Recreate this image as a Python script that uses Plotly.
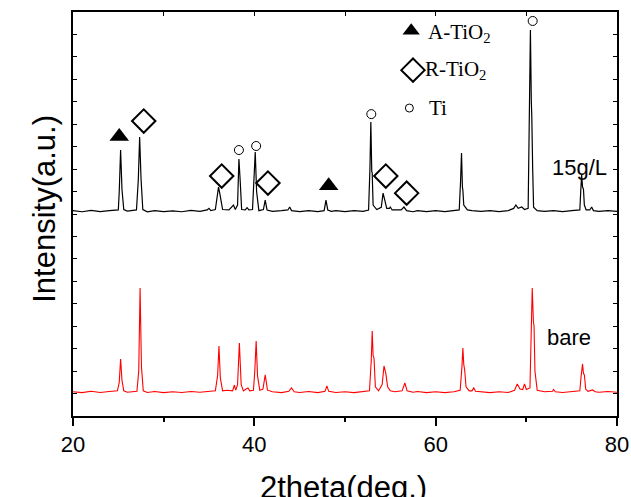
import plotly.graph_objects as go

# ---- data ----
bare_x = [20.0, 21.0, 22.0, 23.0, 24.0, 24.9, 25.1, 25.25, 25.4, 25.6, 26.0, 27.05, 27.25, 27.4, 27.55, 27.75,
          28.2, 29.0, 30.0, 31.0, 32.0, 33.0, 34.0, 35.0, 35.7, 35.95, 36.1, 36.25, 36.5, 37.0, 37.6, 37.8,
          37.95, 38.15, 38.35, 38.55, 38.8, 39.1, 39.3, 39.5, 39.9, 40.05, 40.2, 40.35, 40.6, 40.95, 41.2,
          41.45, 42.0, 43.0, 43.8, 44.1, 44.4, 45.0, 46.0, 47.0, 47.8, 48.0, 48.2, 49.0, 50.0, 51.0, 52.0,
          52.7, 52.9, 53.0, 53.1, 53.2, 53.35, 53.7, 54.1, 54.3, 54.5, 54.7, 55.0, 55.5, 56.3, 56.6, 56.85,
          57.5, 58.0, 59.0, 60.0, 61.0, 62.0, 62.7, 62.9, 63.0, 63.1, 63.2, 63.35, 63.7, 64.0, 64.2, 64.4,
          65.0, 66.0, 67.0, 68.0, 68.7, 69.0, 69.3, 69.6, 69.8, 70.0, 70.4, 70.55, 70.65, 70.78, 70.85,
          70.95, 71.2, 72.0, 72.9, 73.0, 73.2, 74.0, 75.0, 75.9, 76.05, 76.2, 76.3, 76.4, 76.55, 76.8,
          77.3, 77.6, 78.0, 79.0, 80.0]
bare_y = [108, 104, 110, 105, 109, 112, 150, 254, 160, 112, 106, 110, 200, 570, 220, 112,
          105, 109, 104, 108, 105, 109, 106, 110, 112, 180, 312, 170, 112, 115, 112, 138,
          115, 140, 325, 140, 112, 120, 125, 112, 115, 200, 334, 180, 115, 120, 183,
          115, 108, 104, 110, 125, 108, 105, 109, 104, 110, 134, 110, 105, 108, 104, 109,
          112, 250, 379, 270, 258, 130, 112, 140, 223, 190, 130, 112, 108, 112, 147, 112,
          106, 109, 104, 108, 104, 108, 115, 220, 303, 230, 205, 130, 112, 112, 125, 110,
          108, 104, 108, 105, 115, 143, 120, 118, 143, 118, 125, 400, 570, 420, 401,
          200, 115, 108, 110, 118, 108, 105, 108, 112, 180, 232, 190, 183, 120, 110,
          116, 108, 106, 109, 106]

coat_x = [20.0, 21.0, 22.0, 23.0, 24.0, 25.0, 25.1, 25.25, 25.4, 25.6, 26.0, 27.0, 27.2, 27.35, 27.5, 27.7,
          28.2, 29.0, 30.0, 31.0, 32.0, 33.0, 34.0, 34.8, 35.0, 35.2, 35.7, 35.9, 36.05, 36.2, 36.5, 37.2,
          37.5, 37.7, 37.9, 38.15, 38.3, 38.38, 38.45, 38.6, 39.0, 39.2, 39.4, 39.8, 39.95, 40.1, 40.25,
          40.5, 41.0, 41.2, 41.4, 42.0, 43.0, 43.7, 43.9, 44.1, 45.0, 46.0, 47.0, 47.7, 47.9, 48.1, 48.5,
          49.0, 50.0, 51.0, 52.0, 52.6, 52.75, 52.85, 52.95, 53.0, 53.1, 53.5, 54.0, 54.2, 54.4, 54.6,
          54.9, 55.0, 55.2, 56.2, 56.5, 56.8, 57.5, 58.0, 59.0, 60.0, 61.0, 62.0, 62.6, 62.75, 62.85,
          62.95, 63.0, 63.1, 63.5, 64.0, 65.0, 66.0, 67.0, 68.0, 68.6, 68.85, 69.1, 69.5, 69.8, 70.2,
          70.35, 70.45, 70.55, 70.6, 70.7, 70.8, 71.2, 72.0, 73.0, 74.0, 75.0, 75.9, 76.0, 76.1, 76.2,
          76.3, 76.4, 76.6, 77.0, 77.2, 77.4, 78.0, 79.0, 80.0]
coat_y = [915, 910, 916, 911, 915, 918, 1000, 1185, 1010, 920, 913, 918, 1050, 1243, 1060, 920,
          910, 915, 911, 914, 910, 916, 912, 918, 925, 915, 920, 980, 1020, 990, 920, 918,
          930, 940, 920, 940, 1145, 1047, 1040, 920, 918, 928, 918, 920, 1050, 1176, 1000,
          915, 920, 962, 918, 912, 915, 918, 931, 915, 911, 915, 911, 915, 962, 918, 912,
          915, 911, 915, 912, 918, 1100, 1310, 1090, 1083, 940, 920, 930, 993, 960, 925,
          925, 931, 918, 918, 931, 915, 910, 915, 911, 915, 911, 914, 918, 1050, 1172,
          1020, 1007, 940, 918, 915, 912, 915, 911, 915, 925, 940, 925, 931, 920, 925,
          1400, 1720, 1400, 1341, 1100, 930, 915, 912, 915, 911, 915, 918, 1000, 1074, 1020,
          1011, 940, 918, 918, 931, 915, 912, 915, 912]

anatase_x = [25.1, 48.2]
anatase_y = [1245, 1026]
rutile_x = [27.8, 36.4, 41.5, 54.5, 56.8]
rutile_y = [1314, 1069, 1038, 1069, 993]
ti_x = [38.3, 40.2, 52.9, 70.7]
ti_y = [1185, 1203, 1345, 1760]

legend_labels = ["A-TiO<sub>2</sub>", "R-TiO<sub>2</sub>", "Ti"]
sample_labels = ["15g/L", "bare"]
x_ticks = [20, 40, 60, 80]

SANS = "Liberation Sans, Arial, sans-serif"
SERIF = "Liberation Serif, Times New Roman, serif"

fig = go.Figure()
fig.add_trace(go.Scatter(x=coat_x, y=coat_y, mode="lines", line=dict(color="black", width=1.2),
                         showlegend=False, hoverinfo="skip"))
fig.add_trace(go.Scatter(x=bare_x, y=bare_y, mode="lines", line=dict(color="#ff0000", width=1.1),
                         showlegend=False, hoverinfo="skip"))
fig.add_trace(go.Scatter(x=anatase_x, y=anatase_y, mode="markers",
                         marker=dict(symbol="triangle-up", size=17, color="black"), showlegend=False))
fig.add_trace(go.Scatter(x=rutile_x, y=rutile_y, mode="markers",
                         marker=dict(symbol="diamond-open", size=18, color="black", line=dict(width=2, color="black")),
                         showlegend=False))
fig.add_trace(go.Scatter(x=ti_x, y=ti_y, mode="markers",
                         marker=dict(symbol="circle-open", size=9, color="black", line=dict(width=1, color="black")),
                         showlegend=False))

# legend-like key inside the plot
key_x = [57.3, 57.5, 57.1]
key_y = [1716, 1541, 1372]
fig.add_trace(go.Scatter(x=[key_x[0]], y=[key_y[0]], mode="markers",
                         marker=dict(symbol="triangle-up", size=15, color="black"), showlegend=False))
fig.add_trace(go.Scatter(x=[key_x[1]], y=[key_y[1]], mode="markers",
                         marker=dict(symbol="diamond-open", size=18, color="black", line=dict(width=2, color="black")),
                         showlegend=False))
fig.add_trace(go.Scatter(x=[key_x[2]], y=[key_y[2]], mode="markers",
                         marker=dict(symbol="circle-open", size=8, color="black", line=dict(width=1, color="black")),
                         showlegend=False))
text_x = [58.9, 58.6, 59.0]
text_y = [1706, 1541, 1372]
for tx, ty, lab in zip(text_x, text_y, legend_labels):
    fig.add_annotation(x=tx, y=ty, text=lab, showarrow=False, xanchor="left", yanchor="middle",
                       font=dict(family=SERIF, size=21, color="black"))

fig.add_annotation(x=75.9, y=1109, text=sample_labels[0], showarrow=False,
                   font=dict(family=SANS, size=22, color="black"))
fig.add_annotation(x=74.7, y=352, text=sample_labels[1], showarrow=False,
                   font=dict(family=SANS, size=22, color="black"))

# axis titles
fig.add_annotation(xref="paper", yref="paper", x=-0.088, y=0.512, text="Intensity(a.u.)", textangle=-90,
                   showarrow=False, font=dict(family=SANS, size=31, color="black"))
fig.add_annotation(xref="paper", yref="paper", x=0.498, y=-0.176, text="2theta(deg.)",
                   showarrow=False, yanchor="middle", font=dict(family=SANS, size=31, color="black"))

# invisible trace to activate the top axis
fig.add_trace(go.Scatter(x=[20, 80], y=[0, 0], xaxis="x2", mode="lines", line=dict(width=0),
                         showlegend=False, hoverinfo="skip"))

fig.update_layout(
    width=631, height=497,
    margin=dict(l=73, r=14, t=12, b=81, autoexpand=False),
    paper_bgcolor="white", plot_bgcolor="white",
    showlegend=False,
    xaxis=dict(range=[20, 80], tickvals=x_ticks, ticks="outside", ticklen=8, tickwidth=1.5,
               tickcolor="black", showline=True, linecolor="black", linewidth=1.5, mirror=True,
               showgrid=False, zeroline=False,
               tickfont=dict(family=SANS, size=22, color="black"),
               minor=dict(dtick=10, ticks="outside", ticklen=4, tickwidth=1.5, tickcolor="black", showgrid=False)),
    xaxis2=dict(range=[20, 80], overlaying="x", side="top", tickvals=[30, 40, 50, 60, 70], ticks="inside",
                ticklen=4, tickwidth=1, tickcolor="black", showticklabels=False, showgrid=False,
                zeroline=False, showline=False),
    yaxis=dict(range=[0, 1800], dtick=100, ticks="inside", ticklen=4, tickwidth=1, tickcolor="black",
               showticklabels=False, showline=True, linecolor="black", linewidth=1.5, mirror="ticks",
               showgrid=False, zeroline=False),
)

fig.write_html("out.html", config={"displayModeBar": False},
               post_script="document.body.style.margin='0';document.body.style.overflow='hidden';")
